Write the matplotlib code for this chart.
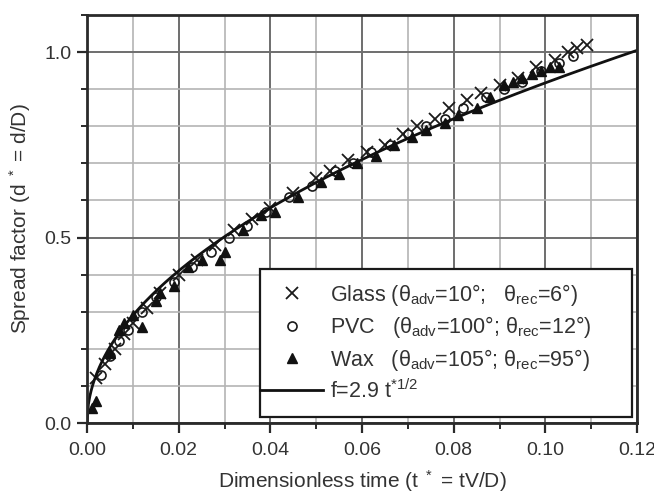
import numpy as np
import matplotlib
matplotlib.use("Agg")
import matplotlib.pyplot as plt
from matplotlib.ticker import MultipleLocator
from matplotlib.patches import Rectangle

plt.rcParams['font.family'] = ['Liberation Sans', 'DejaVu Sans']
plt.rcParams['mathtext.fontset'] = 'custom'
plt.rcParams['mathtext.rm'] = 'Liberation Sans'
plt.rcParams['mathtext.it'] = 'Liberation Sans'
plt.rcParams['mathtext.bf'] = 'Liberation Sans'

# ---- data ----
glass_t = [0.002, 0.004, 0.006, 0.008, 0.010, 0.013, 0.016, 0.020, 0.024, 0.028,
           0.032, 0.036, 0.040, 0.045, 0.050, 0.053, 0.057, 0.061, 0.065, 0.069,
           0.072, 0.076, 0.079, 0.083, 0.086, 0.090, 0.094, 0.098, 0.102, 0.105,
           0.107, 0.109]
glass_y = [0.12, 0.16, 0.20, 0.24, 0.27, 0.31, 0.35, 0.40, 0.44, 0.48,
           0.52, 0.55, 0.58, 0.62, 0.66, 0.68, 0.71, 0.73, 0.75, 0.78,
           0.80, 0.82, 0.85, 0.87, 0.89, 0.91, 0.93, 0.96, 0.98, 1.00,
           1.01, 1.02]

pvc_t = [0.003, 0.005, 0.007, 0.009, 0.012, 0.015, 0.019, 0.023, 0.027, 0.031,
         0.035, 0.039, 0.044, 0.049, 0.054, 0.058, 0.062, 0.066, 0.070, 0.074,
         0.078, 0.082, 0.087, 0.091, 0.095, 0.099, 0.103, 0.106]
pvc_y = [0.13, 0.18, 0.22, 0.25, 0.30, 0.34, 0.38, 0.42, 0.46, 0.50,
         0.53, 0.57, 0.61, 0.64, 0.68, 0.70, 0.73, 0.75, 0.78, 0.80,
         0.82, 0.85, 0.88, 0.90, 0.92, 0.95, 0.97, 0.99]

wax_t = [0.001, 0.002, 0.005, 0.007, 0.008, 0.010, 0.012, 0.015, 0.016, 0.019,
         0.022, 0.025, 0.029, 0.030, 0.034, 0.038, 0.041, 0.046, 0.051, 0.055,
         0.059, 0.063, 0.067, 0.071, 0.074, 0.078, 0.081, 0.085, 0.088, 0.091,
         0.093, 0.095, 0.097, 0.099, 0.101, 0.103]
wax_y = [0.04, 0.06, 0.19, 0.25, 0.27, 0.29, 0.26, 0.33, 0.35, 0.37,
         0.42, 0.44, 0.44, 0.46, 0.52, 0.56, 0.57, 0.61, 0.65, 0.67,
         0.70, 0.72, 0.75, 0.77, 0.79, 0.81, 0.83, 0.85, 0.88, 0.91,
         0.92, 0.93, 0.94, 0.95, 0.96, 0.96]

fit_coef = 2.9
fit_exp = 0.5

labels = [r"Glass ($\theta_{adv}$=10°;   $\theta_{rec}$=6°)",
          r"PVC   ($\theta_{adv}$=100°; $\theta_{rec}$=12°)",
          r"Wax   ($\theta_{adv}$=105°; $\theta_{rec}$=95°)",
          r"f=2.9 t$^{*1/2}$"]

# ---- figure ----
fig = plt.figure(figsize=(6.54, 4.95), dpi=100)
ax = fig.add_axes([87/654, 72/495, 550/654, 408/495])

tc = '#333333'
ax.set_xlim(0, 0.12)
ax.set_ylim(0, 1.1)
ax.xaxis.set_major_locator(MultipleLocator(0.02))
ax.xaxis.set_minor_locator(MultipleLocator(0.01))
ax.yaxis.set_major_locator(MultipleLocator(0.5))
ax.yaxis.set_minor_locator(MultipleLocator(0.1))
ax.xaxis.set_major_formatter(matplotlib.ticker.FormatStrFormatter('%.2f'))
ax.yaxis.set_major_formatter(matplotlib.ticker.FormatStrFormatter('%.1f'))

ax.grid(True, which='major', color='#6e6e6e', lw=1.4)
ax.grid(True, which='minor', color='#b4b4b4', lw=1.2)
ax.set_axisbelow(True)

for s in ax.spines.values():
    s.set_color('#2a2a2a')
    s.set_linewidth(2.0)

ax.tick_params(which='major', direction='out', length=7, width=1.6, color='#2a2a2a',
               labelsize=14, labelcolor=tc)
ax.tick_params(axis='x', which='major', pad=7)
ax.tick_params(axis='y', which='major', pad=4)
ax.tick_params(which='minor', direction='out', length=4, width=1.4, color='#2a2a2a')

h1, = ax.plot(glass_t, glass_y, 'x', color='#1a1a1a', ms=8.5, mew=1.3, ls='none')
h2, = ax.plot(pvc_t, pvc_y, 'o', mfc='none', mec='#1a1a1a', ms=6.5, mew=1.2, ls='none')
h3, = ax.plot(wax_t, wax_y, '^', color='#111111', ms=7.5, ls='none')

tt = np.linspace(0, 0.12, 400)
h4, = ax.plot(tt, fit_coef * tt ** fit_exp, '-', color='#111111', lw=2.0)

ax.set_xlabel(r"Dimensionless time (t $^*$ = tV/D)", fontsize=15, color=tc, labelpad=6)
ax.set_ylabel(r"Spread factor (d $^*$ = d/D)", fontsize=15, color=tc, labelpad=8)

# legend frame box
fx0, fx1 = (260 - 87) / 550, (632 - 87) / 550
fy0, fy1 = (423 - 417) / 408, (423 - 269) / 408
ax.add_patch(Rectangle((fx0, fy0), fx1 - fx0, fy1 - fy0, transform=ax.transAxes,
                       facecolor='white', edgecolor='#1a1a1a', lw=1.6, zorder=4.5))

leg = ax.legend([h1, h2, h3, h4], labels, loc='upper left',
                bbox_to_anchor=(fx0, (423 - 282) / 408), borderaxespad=0,
                fontsize=15.5, frameon=False, handlelength=2.93,
                handletextpad=0.33, borderpad=0, labelspacing=0.3)
leg.set_zorder(5)
for t in leg.get_texts():
    t.set_color(tc)

fig.savefig('out.png', dpi=100)
